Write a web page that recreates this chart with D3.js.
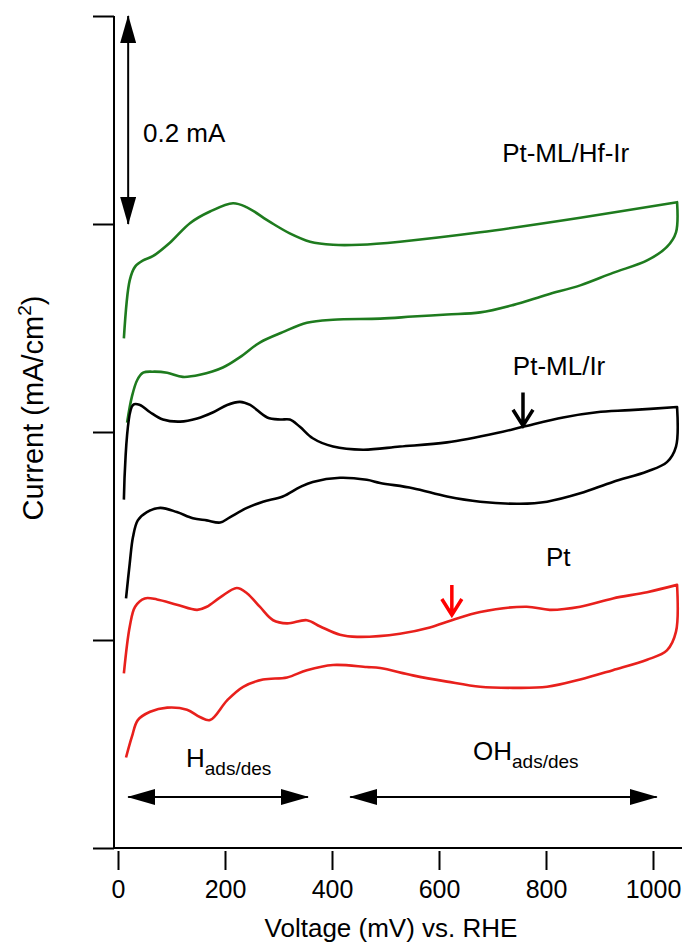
<!DOCTYPE html>
<html>
<head>
<meta charset="utf-8">
<script src="https://cdn.jsdelivr.net/npm/d3@7"></script>
<style>
  body { margin: 0; background: #fff; }
  text { font-family: "Liberation Sans", Arial, sans-serif; fill: #000; }
</style>
</head>
<body>
<div class="svgcontainer"></div>
<script>
// CV traces, [voltage mV, current mA/cm2 (offset)], anodic sweep then cathodic
const ptHfIr = [[11,0.490],[22,0.546],[32,0.559],[47,0.565],[65,0.569],[97,0.582],[135,0.601],[172,0.612],[215,0.620],[241,0.616],[284,0.602],[321,0.591],[359,0.583],[402,0.580],[452,0.580],[527,0.583],[677,0.592],[864,0.606],[1045,0.621],
  [1043,0.592],[1026,0.578],[989,0.565],[925,0.553],[864,0.541],[802,0.532],[738,0.522],[677,0.515],[615,0.513],[551,0.511],[490,0.509],[402,0.508],[353,0.505],[308,0.496],[265,0.486],[228,0.472],[196,0.462],[153,0.455],[121,0.453],[92,0.457],[65,0.458],[47,0.457],[36,0.450],[26,0.434],[17,0.409]];

const ptIr = [[11,0.335],[28,0.426],[41,0.426],[60,0.419],[84,0.412],[116,0.410],[148,0.413],[178,0.419],[204,0.426],[228,0.429],[247,0.426],[279,0.414],[303,0.412],[321,0.412],[340,0.405],[364,0.394],[402,0.386],[458,0.383],[527,0.386],[615,0.390],[708,0.399],[757,0.405],[832,0.414],[895,0.419],[957,0.421],[1045,0.424],
  [1043,0.386],[1026,0.371],[989,0.362],[925,0.352],[864,0.341],[802,0.333],[751,0.331],[677,0.333],[615,0.338],[551,0.346],[490,0.351],[465,0.354],[415,0.356],[364,0.352],[340,0.347],[308,0.338],[271,0.333],[241,0.327],[209,0.318],[191,0.313],[166,0.315],[140,0.317],[110,0.323],[79,0.327],[54,0.323],[37,0.315],[28,0.299],[22,0.274],[15,0.240]];

const pt = [[11,0.168],[22,0.213],[32,0.232],[50,0.240],[73,0.239],[110,0.234],[148,0.229],[166,0.232],[191,0.241],[222,0.250],[241,0.245],[265,0.232],[290,0.219],[316,0.216],[353,0.219],[378,0.213],[415,0.205],[447,0.203],[527,0.206],[583,0.212],[624,0.219],[677,0.227],[764,0.232],[807,0.229],[864,0.232],[925,0.240],[989,0.246],[1045,0.253],
  [1043,0.208],[1026,0.190],[989,0.181],[925,0.171],[864,0.162],[802,0.155],[738,0.154],[677,0.155],[615,0.160],[551,0.166],[490,0.173],[465,0.174],[402,0.176],[353,0.171],[316,0.164],[271,0.162],[234,0.155],[204,0.142],[172,0.123],[153,0.126],[129,0.133],[92,0.135],[60,0.131],[37,0.123],[26,0.107],[15,0.087]];

const xTicks = [0, 200, 400, 600, 800, 1000];
const yTicks = [0, 0.2, 0.4, 0.6, 0.8];

const series = [
  { name: "Pt-ML/Hf-Ir", data: ptHfIr, color: "#1e7b1e", label: [718, 0.66] },
  { name: "Pt-ML/Ir", data: ptIr, color: "#000000", label: [738, 0.455] },
  { name: "Pt", data: pt, color: "#e8201c", label: [800, 0.271] }
];

const W = 682, H = 945;
const axisX = 114;
const fontFam = '"Liberation Sans", Arial, sans-serif';

const x = d3.scaleLinear().domain([0, 1000]).range([118, 653]);
const y = d3.scaleLinear().domain([0, 0.8]).range([848, 16]);

const svg = d3.select('.svgcontainer')
  .append('svg')
  .attr('width', W)
  .attr('height', H);

const defs = svg.append('defs');
defs.append('marker')
  .attr('id', 'head')
  .attr('markerUnits', 'userSpaceOnUse')
  .attr('viewBox', '0 0 28 16')
  .attr('refX', 27).attr('refY', 8)
  .attr('markerWidth', 28).attr('markerHeight', 16)
  .attr('orient', 'auto-start-reverse')
  .append('path')
  .attr('d', 'M0,0 L28,8 L0,16 Z')
  .attr('fill', '#000');

// y axis (no labels)
svg.append('g')
  .attr('transform', `translate(${axisX},0)`)
  .call(d3.axisLeft(y).tickValues(yTicks).tickSize(21).tickSizeOuter(0).tickFormat(''))
  .call(g => g.select('.domain').remove())
  .call(g => g.selectAll('line').attr('stroke-width', 2));
svg.append('line')
  .attr('x1', axisX).attr('x2', axisX)
  .attr('y1', y(0.8)).attr('y2', y(0))
  .attr('stroke', '#000').attr('stroke-width', 2);

// x axis
svg.append('line')
  .attr('x1', axisX).attr('x2', W)
  .attr('y1', y(0)).attr('y2', y(0))
  .attr('stroke', '#000').attr('stroke-width', 2);
const xg = svg.append('g')
  .attr('transform', `translate(0,${y(0) + 3})`)
  .call(d3.axisBottom(x).tickValues(xTicks).tickSize(19).tickPadding(10).tickFormat(d3.format('d')))
  .call(g => g.select('.domain').remove())
  .call(g => g.selectAll('line').attr('stroke-width', 2));
xg.selectAll('text')
  .style('font-family', fontFam)
  .style('font-size', '25px');

svg.append('text')
  .attr('x', 391).attr('y', 937)
  .attr('text-anchor', 'middle')
  .style('font-size', '26px')
  .text('Voltage (mV) vs. RHE');

const yt = svg.append('text')
  .attr('transform', 'translate(43,408) rotate(-90)')
  .attr('text-anchor', 'middle')
  .style('font-size', '29px');
yt.append('tspan').text('Current (mA/cm');
yt.append('tspan').attr('dy', -12).style('font-size', '19px').text('2');
yt.append('tspan').attr('dy', 12).text(')');

// curves: split each trace at its turning point so the corner stays sharp
const line = d3.line()
  .x(d => x(d[0]))
  .y(d => y(d[1]))
  .curve(d3.curveCatmullRom.alpha(0.5));

const cvPath = data => {
  const k = d3.maxIndex(data, d => d[0]);
  return line(data.slice(0, k + 1)) + line(data.slice(k)).replace(/^M[^A-Za-z]*/, m => 'L' + m.slice(1));
};

svg.selectAll('.cv')
  .data(series)
  .enter()
  .append('path')
  .attr('class', 'cv')
  .attr('fill', 'none')
  .attr('stroke', d => d.color)
  .attr('stroke-width', 2.6)
  .attr('stroke-linejoin', 'round')
  .attr('d', d => cvPath(d.data));

svg.selectAll('.lbl')
  .data(series)
  .enter()
  .append('text')
  .attr('class', 'lbl')
  .attr('x', d => x(d.label[0]))
  .attr('y', d => y(d.label[1]))
  .style('font-size', '26px')
  .text(d => d.name);

// scale bar 0.2 mA
svg.append('line')
  .attr('x1', x(19)).attr('x2', x(19))
  .attr('y1', y(0.8)).attr('y2', y(0.6))
  .attr('stroke', '#000').attr('stroke-width', 2)
  .attr('marker-start', 'url(#head)')
  .attr('marker-end', 'url(#head)');
svg.append('text')
  .attr('x', 143).attr('y', 142)
  .style('font-size', '26px')
  .text('0.2 mA');

// region arrows
const regions = [[19, 355], [434, 1007]];
svg.selectAll('.reg')
  .data(regions)
  .enter()
  .append('line')
  .attr('x1', d => x(d[0])).attr('x2', d => x(d[1]))
  .attr('y1', y(0.049)).attr('y2', y(0.049))
  .attr('stroke', '#000').attr('stroke-width', 2)
  .attr('marker-start', 'url(#head)')
  .attr('marker-end', 'url(#head)');

const hLbl = svg.append('text').attr('x', 186).attr('y', 767).style('font-size', '26px');
hLbl.append('tspan').text('H');
hLbl.append('tspan').attr('dy', 8).style('font-size', '19px').text('ads/des');

const ohLbl = svg.append('text').attr('x', 473).attr('y', 760).style('font-size', '26px');
ohLbl.append('tspan').text('OH');
ohLbl.append('tspan').attr('dy', 8).style('font-size', '19px').text('ads/des');

// small down arrows marking OH onset
const marks = [
  { v: 757, top: 0.438, tip: 0.406, color: '#000' },
  { v: 624, top: 0.253, tip: 0.224, color: '#ff0000' }
];
svg.selectAll('.mark')
  .data(marks)
  .enter()
  .append('path')
  .attr('fill', 'none')
  .attr('stroke', d => d.color)
  .attr('stroke-width', 3.5)
  .attr('d', d => {
    const cx = x(d.v), t = y(d.top), p = y(d.tip);
    return `M${cx},${t} L${cx},${p} M${cx - 10},${p - 16} L${cx},${p} L${cx + 10},${p - 16}`;
  });
</script>
</body>
</html>
